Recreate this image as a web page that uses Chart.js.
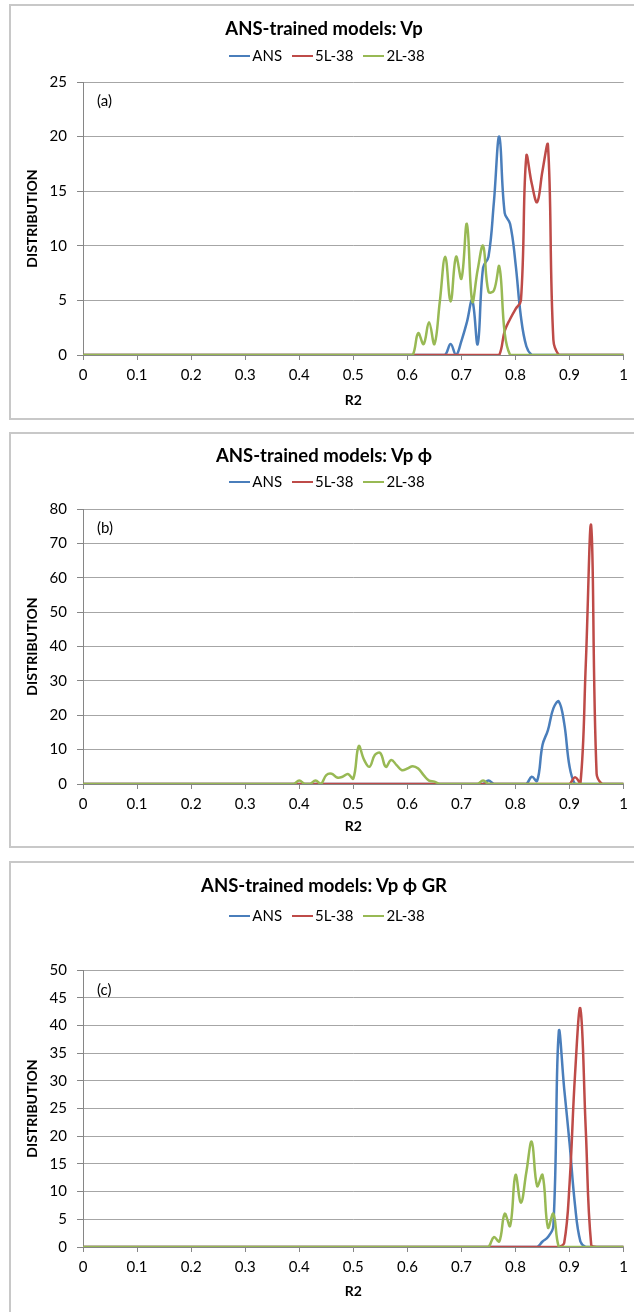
<!DOCTYPE html>
<html lang="en">
<head>
<meta charset="UTF-8">
<title>ANS-trained models</title>
<script src="https://cdn.jsdelivr.net/npm/chart.js@4"></script>
<style>
  body { margin: 0; background: #fff; font-family: Lato, "Open Sans", sans-serif; color: #000; }
  .page { position: relative; width: 634px; height: 1312px; overflow: hidden; }
  .panel { position: absolute; left: 9px; width: 640px; border: 2px solid #c8c8c8; box-sizing: border-box; }
  .wrap { position: absolute; left: 0; width: 634px; }
  .title { position: absolute; left: 9px; width: 630px; text-align: center; font-weight: bold; font-size: 18.5px; line-height: 22px; }
  .legend { position: absolute; left: 9px; width: 636px; display: flex; justify-content: center; gap: 10px; font-size: 15px; line-height: 18px; }
  .legend i { display: inline-block; width: 21px; height: 2.5px; vertical-align: middle; margin-right: 2px; position: relative; top: -1px; }
  .tag { position: absolute; left: 97px; font-size: 15px; line-height: 18px; }
</style>
</head>
<body>
<div class="page">
  <!-- (a) -->
  <div class="panel" style="top:4px;height:416px"></div>
  <div class="wrap" style="top:4px;height:416px"><canvas id="chartA" width="634" height="416"></canvas></div>
  <div class="title" style="top:17px">ANS-trained models: Vp</div>
  <div class="legend" id="legendA" style="top:46px"></div>
  <div class="tag" style="top:91px">(a)</div>

  <!-- (b) -->
  <div class="panel" style="top:432px;height:416px"></div>
  <div class="wrap" style="top:432px;height:416px"><canvas id="chartB" width="634" height="416"></canvas></div>
  <div class="title" style="top:444px">ANS-trained models: Vp ϕ</div>
  <div class="legend" id="legendB" style="top:472px"></div>
  <div class="tag" style="top:518px">(b)</div>

  <!-- (c) -->
  <div class="panel" style="top:861px;height:470px"></div>
  <div class="wrap" style="top:861px;height:451px"><canvas id="chartC" width="634" height="451"></canvas></div>
  <div class="title" style="top:874px">ANS-trained models: Vp ϕ GR</div>
  <div class="legend" id="legendC" style="top:906px"></div>
  <div class="tag" style="top:980px">(c)</div>
</div>

<script>
// series names and colours (Excel 2007 defaults)
const seriesNames = ['ANS', '5L-38', '2L-38'];
const seriesColors = ['#4a7ebb', '#be4b48', '#98b954'];
const xTickLabels = ['0', '0.1', '0.2', '0.3', '0.4', '0.5', '0.6', '0.7', '0.8', '0.9', '1'];

// R2 is sampled every 0.01; each series is zero outside [start, start + 0.01*(n-1)]
// (a) Vp
const ansStartA = 0.67;
const ansA = [0, 1, 0, 1.3, 3, 5, 1, 8, 9, 14, 20, 13, 12, 8.4, 3.5, 0.8, 0];
const l5StartA = 0.77;
const l5A = [0, 2.2, 3.3, 4.2, 5, 18.2, 15.7, 14, 16.9, 19.2, 1.4, 0];
const l2StartA = 0.61;
const l2A = [0, 2, 1, 3, 1, 4.9, 9, 4.9, 9, 7, 12, 4.9, 7.8, 10, 5.8, 5.9, 8.1, 2, 0];

// (b) Vp phi
const ansStartB = 0.74;
const ansB = [0, 1, 0, 0, 0, 0, 0, 0, 0, 2.1, 0.9, 11.4, 15.7, 22, 24, 17.7, 5, 0];
const l5StartB = 0.90;
const l5B = [0, 2, 0, 35, 75, 3, 0];
const l2StartB = 0.39;
const l2B = [0, 1, 0, 0, 1, 0, 2.6, 3, 1.9, 2.1, 2.9, 1.6, 11, 7, 5, 8.5, 9, 5, 7, 5.5, 4, 4.5, 5.2, 4.5, 2.6, 1, 0.7, 0,
             0, 0, 0, 0, 0, 0, 0, 1, 0];

// (c) Vp phi GR
const ansStartC = 0.84;
const ansC = [0, 1, 1.8, 3.8, 38.8, 28.6, 18.7, 7.6, 1, 0];
const l5StartC = 0.88;
const l5C = [0, 0.7, 11.5, 31, 43, 21, 0.4, 0];
const l2StartC = 0.75;
const l2C = [0, 1.8, 1, 6, 3.8, 13, 8, 13.5, 19, 11, 13, 3.5, 6, 0];

const AXIS = '#868686';
const GRID = '#a6a6a6';
const FONT = 'Lato, "Open Sans", sans-serif';

function toPoints(start, values) {
  const pts = [];
  const off = Math.round(start * 100);
  for (let i = 0; i <= 100; i++) {
    const v = values[i - off];
    pts.push({ x: i / 100, y: v === undefined ? 0 : v });
  }
  return pts;
}

function buildLegend(id) {
  const el = document.getElementById(id);
  seriesNames.forEach((name, i) => {
    const s = document.createElement('span');
    s.innerHTML = '<i style="background:' + seriesColors[i] + '"></i>' + name;
    el.appendChild(s);
  });
}

function makeChart(id, series, yMax, yStep, area) {
  new Chart(document.getElementById(id), {
    type: 'line',
    data: {
      datasets: series.map((d, i) => ({
        label: seriesNames[i],
        data: toPoints(d[0], d[1]),
        borderColor: seriesColors[i],
        backgroundColor: seriesColors[i],
        borderWidth: 2.5,
        pointRadius: 0,
        tension: 0.4,
        fill: false,
        order: 3 - i
      }))
    },
    options: {
      responsive: false,
      animation: false,
      layout: { padding: { left: 0, right: 9, top: area.top, bottom: 0 } },
      plugins: { legend: { display: false }, title: { display: false }, tooltip: { enabled: false } },
      scales: {
        x: {
          type: 'linear', min: 0, max: 1,
          afterFit: s => { s.height = area.xh; },
          border: { color: AXIS, width: 1 },
          grid: { drawOnChartArea: false, drawTicks: true, tickLength: 5, tickColor: AXIS },
          ticks: {
            stepSize: 0.1, autoSkip: false, maxRotation: 0, padding: 6, color: '#000',
            font: { family: FONT, size: 15 },
            callback: (v, i) => xTickLabels[i]
          },
          title: {
            display: true, text: 'R2', color: '#000',
            font: { family: FONT, size: 14, weight: 'bold' },
            padding: { top: 0, bottom: area.rPad }
          }
        },
        y: {
          min: 0, max: yMax,
          afterFit: s => { s.width = 83; },
          border: { color: AXIS, width: 1 },
          grid: { color: GRID, tickColor: AXIS, tickLength: 6 },
          ticks: { stepSize: yStep, padding: 10, color: '#000', font: { family: FONT, size: 15 } },
          title: {
            display: true, text: 'DISTRIBUTION', color: '#000',
            font: { family: FONT, size: 14, weight: 'bold' },
            padding: { top: 24, bottom: 0 }
          }
        }
      }
    }
  });
}

buildLegend('legendA');
buildLegend('legendB');
buildLegend('legendC');

makeChart('chartA', [[ansStartA, ansA], [l5StartA, l5A], [l2StartA, l2A]], 25, 5, { top: 78, xh: 65, rPad: 11 });
makeChart('chartB', [[ansStartB, ansB], [l5StartB, l5B], [l2StartB, l2B]], 80, 10, { top: 77, xh: 64, rPad: 13 });
makeChart('chartC', [[ansStartC, ansC], [l5StartC, l5C], [l2StartC, l2C]], 50, 5, { top: 109, xh: 65, rPad: 12 });
</script>
</body>
</html>
